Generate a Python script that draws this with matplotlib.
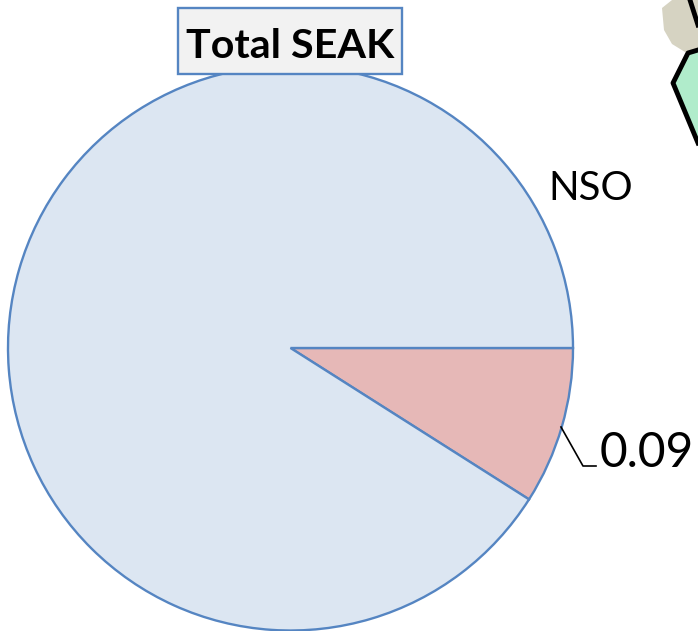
#!/usr/bin/env python3
"""Total SEAK pie chart with a NSO share label."""

import matplotlib
matplotlib.use("Agg")
import matplotlib.pyplot as plt
from matplotlib.patches import Polygon, Rectangle

WIDTH = 698
HEIGHT = 631

categories = ["NSO", "Other"]
shares = [0.09, 0.91]
share_label = "0.09"
title = "Total SEAK"

EDGE = "#5585c2"
colors = ["#e6b8b7", "#dce6f2"]

plt.rcParams["font.family"] = ["Lato", "DejaVu Sans"]

fig = plt.figure(figsize=(WIDTH / 100, HEIGHT / 100), dpi=100, facecolor="white")

# overlay in image pixels, y pointing down
overlay = fig.add_axes([0, 0, 1, 1], zorder=3)
overlay.set_xlim(0, WIDTH)
overlay.set_ylim(HEIGHT, 0)
overlay.axis("off")

# pie box is centred on (290.5, 348) with radius 282.5 px
cx, cy, r = 290.5, 348, 282.5
ax = fig.add_axes(
    [(cx - r) / WIDTH, 1 - (cy + r) / HEIGHT, 2 * r / WIDTH, 2 * r / HEIGHT],
    zorder=2,
)
ax.pie(
    shares,
    colors=colors,
    startangle=0,
    counterclock=False,
    radius=1,
    wedgeprops={"edgecolor": EDGE, "linewidth": 1.7},
)
ax.set_xlim(-1, 1)
ax.set_ylim(-1, 1)
ax.set_clip_on(False)

# title box
overlay.add_patch(Rectangle((178, 8), 224, 66, facecolor="#f2f2f2", edgecolor=EDGE, linewidth=1.7))
overlay.text(290, 47, title, fontsize=29.7, fontweight="bold", color="black", ha="center", va="center")

# labels and leader line
overlay.text(591, 189, categories[0], fontsize=29, color="black", ha="center", va="center")
overlay.text(647, 453, share_label, fontsize=34.5, color="black", ha="center", va="center")
overlay.plot([561, 583, 596], [427, 466, 466], color="black", linewidth=1.2)

# cropped bit of the map in the top right corner
overlay.add_patch(Polygon(
    [(662, 8), (672, 0), (698, 0), (698, 50), (685, 52), (672, 44), (664, 30)],
    closed=True, facecolor="#d6d3c2", edgecolor="none",
))
overlay.add_patch(Polygon(
    [(698, 50), (688, 53), (673, 83), (698, 143)],
    closed=True, facecolor="#b0eccb", edgecolor="none",
))
overlay.plot([698, 688, 673, 698], [50, 53, 83, 143], color="black", linewidth=3.5)
overlay.plot([690, 698], [0, 25], color="black", linewidth=3.5)

fig.savefig("out.png", dpi=100, facecolor="white")
plt.close(fig)
